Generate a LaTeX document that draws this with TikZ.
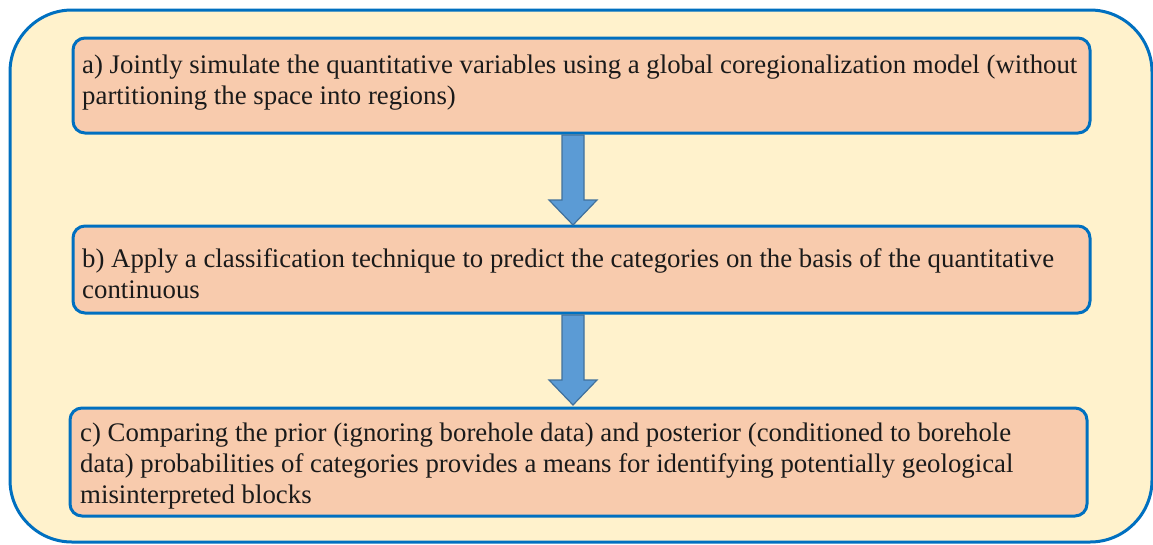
\documentclass[tikz,border=0pt]{standalone}
\usepackage{fontspec}
\setmainfont{Liberation Serif}
\definecolor{outerfill}{HTML}{FFF2CC}
\definecolor{bluebord}{HTML}{0070C0}
\definecolor{boxfill}{HTML}{F8CBAD}
\definecolor{arrfill}{HTML}{5B9BD5}
\definecolor{arrbord}{HTML}{41719C}
\definecolor{txt}{HTML}{1A1A1A}
\begin{document}
\begin{tikzpicture}[x=1pt,y=-1pt,
  stepbox/.style={draw=bluebord,line width=3pt,fill=boxfill,rounded corners=12pt},
  steptext/.style={anchor=base west,inner sep=0pt,align=left,text=txt,font=\fontsize{26.8}{31}\selectfont},
  bigarrow/.style={draw=arrbord,line width=1.2pt,fill=arrfill,line join=miter}]
\useasboundingbox (0,0) rectangle (1153,544);
\fill[white] (0,0) rectangle (1153,544);
\draw[draw=bluebord,line width=3pt,fill=outerfill,rounded corners=62pt] (10,10) rectangle (1152,542);
% boxes
\draw[stepbox] (73,38) rectangle (1090,133);
\node[steptext] (ta) at (82,104) {a) Jointly simulate the quantitative variables using a global coregionalization model (without\\partitioning the space into regions)};
\draw[stepbox] (73,226) rectangle (1090,313);
\node[steptext] (tb) at (82,298) {b) Apply a classification technique to predict the categories on the basis of the quantitative\\continuous};
\draw[stepbox] (70,408) rectangle (1087,516);
\node[steptext] (tc) at (80,503) {c) Comparing the prior (ignoring borehole data) and posterior (conditioned to borehole\\data) probabilities of categories provides a means for identifying potentially geological\\misinterpreted blocks};
% arrows
\draw[bigarrow] (562,135) -- (584,135) -- (584,200) -- (597,200) -- (573,225) -- (549,200) -- (562,200) -- cycle;
\draw[bigarrow] (562,315) -- (584,315) -- (584,380) -- (597,380) -- (573,405) -- (549,380) -- (562,380) -- cycle;
\end{tikzpicture}
\end{document}
